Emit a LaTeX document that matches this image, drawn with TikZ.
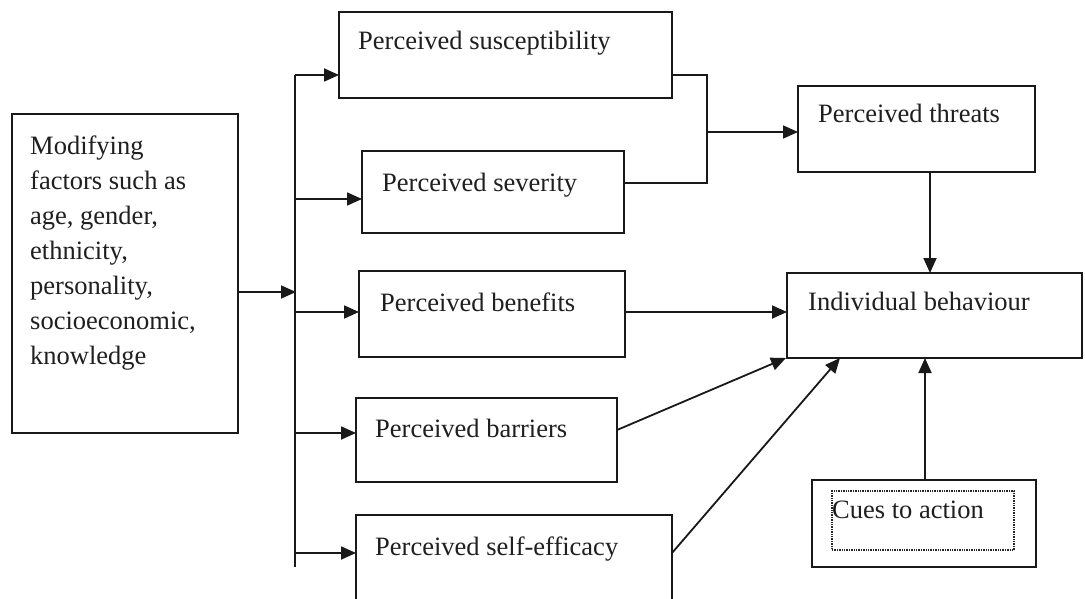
\documentclass[tikz,border=0pt]{standalone}
\usepackage{fontspec}
\setmainfont{Liberation Serif}
\usetikzlibrary{arrows.meta}
\begin{document}
\begin{tikzpicture}[x=1pt,y=-1pt,
  box/.style={draw=black!90, line width=1.8pt, inner sep=0pt, outer sep=0pt, fill=white},
  txt/.style={anchor=base west, inner sep=0pt, text=black!88,
              font=\fontsize{26.5}{35}\selectfont},
  link/.style={draw=black!90, line width=1.8pt},
  arr/.style={link, -{Triangle[length=15pt,width=13pt]}}]
\fill[white] (0,0) rectangle (1085,599);
\useasboundingbox (0,0) rectangle (1085,599);

% boxes
\node[box, minimum width=226pt, minimum height=319pt] (mod) at (125,273.5) {};
\node[box, minimum width=333pt, minimum height=86pt] (sus) at (505.5,55) {};
\node[box, minimum width=262pt, minimum height=82pt] (sev) at (493,192) {};
\node[box, minimum width=266pt, minimum height=86pt] (ben) at (492,314) {};
\node[box, minimum width=261pt, minimum height=84pt] (bar) at (486.5,440) {};
\node[box, minimum width=316pt, minimum height=88pt] (eff) at (514,559) {};
\node[box, minimum width=237pt, minimum height=86pt] (thr) at (916.5,129) {};
\node[box, minimum width=295pt, minimum height=85pt] (ind) at (934.5,315.5) {};
\node[box, minimum width=224pt, minimum height=87pt] (cue) at (924,523.5) {};
\node[draw=black!85, densely dotted, line width=1.4pt, inner sep=0pt,
      minimum width=182pt, minimum height=59pt] (cuein) at (923,520.5) {};

% labels
\node[txt] (modt) at (30,155) {\begin{tabular}[t]{@{}l@{}}Modifying\\factors such as\\age, gender,\\ethnicity,\\personality,\\socioeconomic,\\knowledge\end{tabular}};
\node[txt] (sust) at (358,50) {Perceived susceptibility};
\node[txt] (sevt) at (382,192) {Perceived severity};
\node[txt] (bent) at (380,311) {Perceived benefits};
\node[txt] (bart) at (375,437) {Perceived barriers};
\node[txt] (efft) at (375,555) {Perceived self-efficacy};
\node[txt] (thrt) at (818,123) {Perceived threats};
\node[txt] (indt) at (808,310) {Individual behaviour};
\node[txt] (cuet) at (832,518) {Cues to action};

% branching trunk
\coordinate (b1) at (295,75);
\coordinate (b2) at (295,199);
\coordinate (b3) at (295,312);
\coordinate (b4) at (295,433);
\coordinate (b5) at (295,553);
\coordinate (tb) at (295,567);
\coordinate (mj) at (296,292);
\draw[link] (b1) -- (tb);
\draw[arr] (mj -| mod.east) -- (mj);
\draw[arr] (b1) -- (b1 -| sus.west);
\draw[arr] (b2) -- (b2 -| sev.west);
\draw[arr] (b3) -- (b3 -| ben.west);
\draw[arr] (b4) -- (b4 -| bar.west);
\draw[arr] (b5) -- (b5 -| eff.west);

% susceptibility and severity merge into threats
\coordinate (mtop) at (707,75);
\coordinate (mbot) at (707,183);
\coordinate (mmid) at (707,132);
\draw[link] (mtop -| sus.east) -- (mtop) -- (mbot) -- (mbot -| sev.east);
\draw[arr] (mmid) -- (mmid -| thr.west);

% into individual behaviour
\draw[arr] ([xshift=13.5pt]thr.south) -- ([xshift=13.5pt]thr.south |- ind.north);
\draw[arr] (b3 -| ben.east) -- (b3 -| ind.west);
\draw[arr] ([yshift=10pt]bar.east) -- ([xshift=-1pt]ind.south west);
\draw[arr] ([yshift=6pt]eff.east) -- ([xshift=53pt]ind.south west);
\draw[arr] ([xshift=1pt]cue.north) -- ([xshift=1pt]cue.north |- ind.south);
\end{tikzpicture}
\end{document}
